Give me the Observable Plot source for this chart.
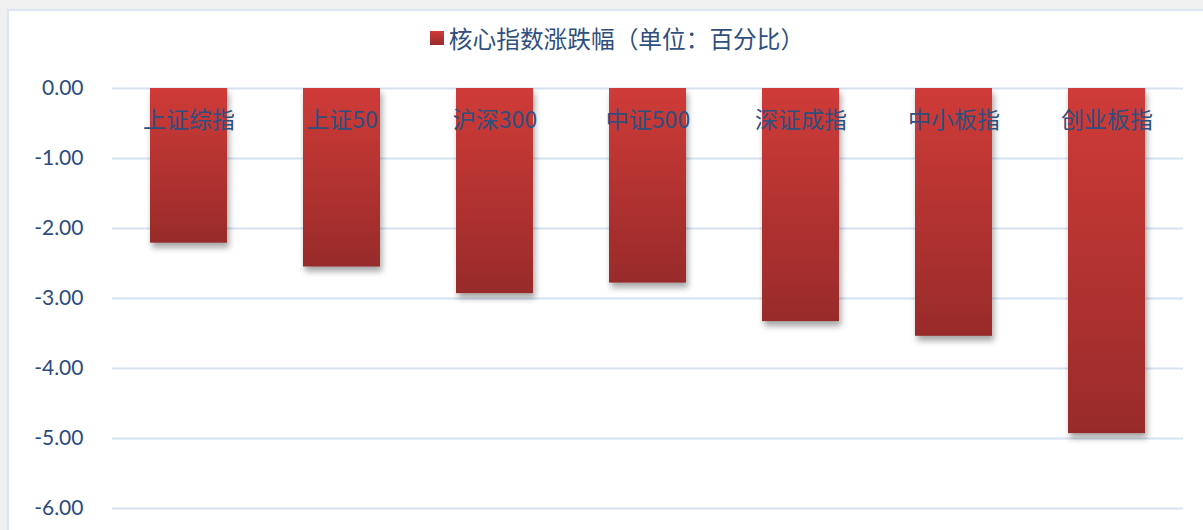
<!DOCTYPE html>
<html>
<head>
<meta charset="utf-8">
<script src="https://cdn.jsdelivr.net/npm/d3@7"></script>
<script src="https://cdn.jsdelivr.net/npm/@observablehq/plot@0.6"></script>
<style>
  html, body { margin: 0; padding: 0; background: #f0f0f0; overflow: hidden; }
  #frame {
    position: absolute; left: 7px; top: 9px; width: 1300px; height: 600px;
    background: #ffffff; border: 2px solid #dbe6f4; box-sizing: border-box;
  }
  #legend {
    position: absolute; left: 0; top: 0; width: 1184px; height: 52px;
    display: flex; align-items: center; justify-content: center;
    font-family: "Noto Sans CJK SC", sans-serif; font-size: 23.7px; color: #2f4f7e;
    padding-top: 2px; padding-left: 32px; box-sizing: border-box;
  }
  #legend .sw {
    width: 14px; height: 14px; margin-right: 5px;
    background: linear-gradient(#cf3b38, #992b2b);
  }
  #chart { position: absolute; left: 0; top: 50px; }
</style>
</head>
<body>
<div id="frame">
  <div id="legend"><span class="sw"></span><span id="legendText"></span></div>
  <div id="chart"></div>
</div>
<script>
const seriesName = "核心指数涨跌幅（单位：百分比）";
const categories = ["上证综指", "上证50", "沪深300", "中证500", "深证成指", "中小板指", "创业板指"];
const values = [-2.21, -2.55, -2.93, -2.78, -3.33, -3.54, -4.93];
const yTicks = [0, -1, -2, -3, -4, -5, -6];

document.getElementById("legendText").textContent = seriesName;

const data = categories.map((c, i) => ({category: c, value: values[i]}));

const plot = Plot.plot({
  width: 1184,
  height: 480,
  marginLeft: 103,
  marginRight: 10,
  marginTop: 27,
  marginBottom: 33,
  style: {background: "transparent", overflow: "visible"},
  x: {domain: categories, paddingInner: 0.497, paddingOuter: 0.2485, axis: null},
  y: {domain: [-6, 0], axis: null},
  marks: [
    Plot.gridY(yTicks, {stroke: "#d6e2f1", strokeOpacity: 1, strokeWidth: 2}),
    Plot.axisY(yTicks, {
      label: null,
      tickSize: 0, tickPadding: 29,
      tickFormat: d => d3.format(".2f")(d).replace("−", "-"),
      fontSize: 21, fontFamily: "Lato, 'Open Sans', sans-serif", fill: "#2b4c7e", color: "#2b4c7e"
    }),
    Plot.barY(data, {
      x: "category", y: "value", fill: "url(#barGrad)"
    }),
    Plot.text(data, {
      x: "category", y: () => 0, text: "category", dy: 32,
      fontSize: 23, fontFamily: "'Noto Sans CJK SC', sans-serif", fill: "#2f4f7e"
    })
  ]
});

const svg = d3.select(plot);
const defs = svg.insert("defs", ":first-child");
const g = defs.append("linearGradient").attr("id", "barGrad")
  .attr("x1", 0).attr("y1", 0).attr("x2", 0).attr("y2", 1);
g.append("stop").attr("offset", "0%").attr("stop-color", "#cf3b38");
g.append("stop").attr("offset", "100%").attr("stop-color", "#982b2a");
svg.selectAll("g[aria-label='bar'] rect").style("filter", "drop-shadow(2px 5px 3px rgba(0,0,0,0.35))");

document.getElementById("chart").appendChild(plot);
</script>
</body>
</html>
